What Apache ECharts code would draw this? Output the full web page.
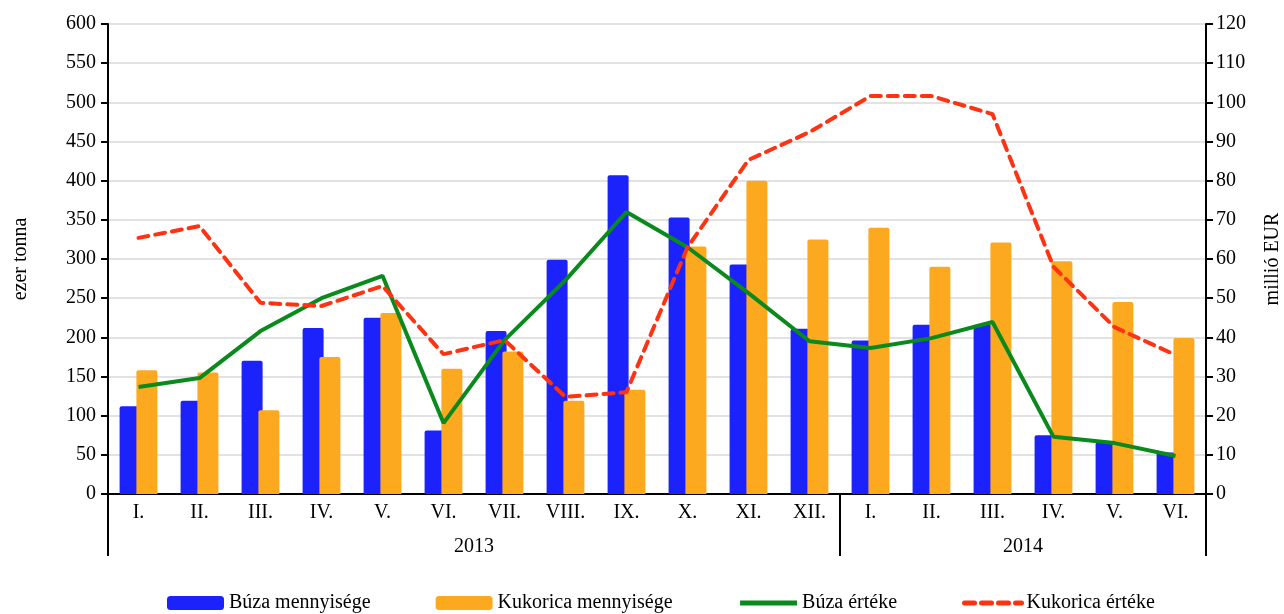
<!DOCTYPE html>
<html>
<head>
<meta charset="utf-8">
<script src="https://cdn.jsdelivr.net/npm/echarts@6/dist/echarts.min.js"></script>
<style>
html,body{margin:0;padding:0;background:#fff;}
#chart{width:1284px;height:614px;}
</style>
</head>
<body>
<div id="chart"></div>
<script>
// hónapok és évek
var months = ['I.','II.','III.','IV.','V.','VI.','VII.','VIII.','IX.','X.','XI.','XII.','I.','II.','III.','IV.','V.','VI.'];
var years = ['2013', '2014'];
var yearBounds = [0, 12, 18];
var yearMid = [6, 15];

// ezer tonna
var buzaMenny = [112,119,170,212,225,81,208,299,407,353,293,211,196,216,216,75,66,53];
var kukMenny = [158,155,107,175,231,160,182,119,133,316,400,325,340,290,321,297,245,199];
// millió EUR
var buzaErtek = [27.3,29.6,41.6,50,55.7,18.1,39.3,54.6,72,63,51.3,39,37.3,39.8,43.9,14.6,13,9.7];
var kukErtek = [65.4,68.4,48.8,48,53.1,35.7,39.3,24.8,26,63,85.3,92.4,101.6,101.6,97,58,42.6,35.5];

var font = 'Liberation Serif';
var fs = 20;
var chart = echarts.init(document.getElementById('chart'));
var option = {
  animation: false,
  textStyle: { fontFamily: font },
  grid: { left: 108, right: 78, top: 24, bottom: 120, outerBoundsMode: 'none' },
  legend: {
    bottom: -4,
    left: 162,
    itemWidth: 57,
    itemHeight: 14,
    itemGap: 65,
    textStyle: { fontFamily: font, fontSize: fs, color: '#000' },
    data: [
      'Búza mennyisége',
      'Kukorica mennyisége',
      { name: 'Búza értéke', itemStyle: { opacity: 0 }, lineStyle: { width: 5 } },
      { name: 'Kukorica értéke', itemStyle: { opacity: 0 }, lineStyle: { width: 5 } }
    ]
  },
  xAxis: [
    {
      type: 'category',
      data: months,
      position: 'bottom',
      axisLine: { lineStyle: { color: '#000', width: 2 } },
      axisTick: { length: 30, lineStyle: { color: '#000', width: 2 } },
      axisLabel: { color: '#000', fontSize: fs, fontFamily: font, margin: 9 }
    },
    {
      type: 'value',
      min: 0,
      max: 18,
      position: 'bottom',
      splitLine: { show: false },
      axisLine: { show: false },
      axisTick: { show: true, customValues: yearBounds, length: 62, lineStyle: { color: '#000', width: 2 } },
      axisLabel: {
        customValues: yearMid,
        margin: 43,
        color: '#000',
        fontSize: fs,
        fontFamily: font,
        formatter: function (v) { return v < 12 ? years[0] : years[1]; }
      }
    }
  ],
  yAxis: [
    {
      type: 'value',
      min: 0,
      max: 600,
      interval: 50,
      name: 'ezer tonna',
      nameLocation: 'middle',
      nameGap: 77,
      nameTextStyle: { fontFamily: font, fontSize: fs, color: '#000' },
      axisLine: { show: true, lineStyle: { color: '#000', width: 2 } },
      axisTick: { show: true, length: 7, lineStyle: { color: '#000', width: 2 } },
      axisLabel: { color: '#000', fontSize: fs, fontFamily: font, margin: 12 },
      splitLine: { lineStyle: { color: '#d9d9d9', width: 1.5 } }
    },
    {
      type: 'value',
      min: 0,
      max: 120,
      interval: 10,
      name: 'millió EUR',
      nameLocation: 'middle',
      nameGap: 57,
      nameTextStyle: { fontFamily: font, fontSize: fs, color: '#000' },
      axisLine: { show: true, lineStyle: { color: '#000', width: 2 } },
      axisTick: { show: true, length: 7, lineStyle: { color: '#000', width: 2 } },
      axisLabel: { color: '#000', fontSize: fs, fontFamily: font, margin: 10 },
      splitLine: { show: false }
    }
  ],
  series: [
    {
      name: 'Búza mennyisége',
      type: 'bar',
      data: buzaMenny,
      barWidth: 21,
      barGap: '-20%',
      itemStyle: { color: '#1b22fc', borderRadius: [2, 2, 0, 0] }
    },
    {
      name: 'Kukorica mennyisége',
      type: 'bar',
      data: kukMenny,
      barWidth: 21,
      barGap: '-20%',
      itemStyle: { color: '#fda920', borderRadius: [2, 2, 0, 0] }
    },
    {
      name: 'Búza értéke',
      type: 'line',
      yAxisIndex: 1,
      data: buzaErtek,
      symbol: 'none',
      lineStyle: { color: '#0a8a1c', width: 4 },
      itemStyle: { color: '#0a8a1c' }
    },
    {
      name: 'Kukorica értéke',
      type: 'line',
      yAxisIndex: 1,
      data: kukErtek,
      symbol: 'none',
      lineStyle: { color: '#ff3312', width: 4, type: [10, 7], cap: 'round' },
      itemStyle: { color: '#ff3312' }
    }
  ]
};
chart.setOption(option);
</script>
</body>
</html>
